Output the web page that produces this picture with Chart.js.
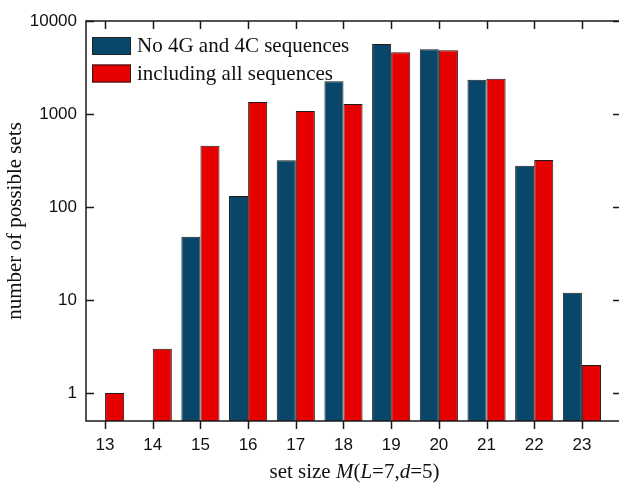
<!DOCTYPE html>
<html>
<head>
<meta charset="utf-8">
<script src="https://cdn.jsdelivr.net/npm/chart.js"></script>
<style>
  html, body { margin: 0; padding: 0; background: #fff; overflow: hidden; }
  #wrap { width: 622px; height: 484px; }
</style>
</head>
<body>
<div id="wrap"><canvas id="myChart"></canvas></div>
<script>
// set sizes M(L=7,d=5)
const setSizes = [13, 14, 15, 16, 17, 18, 19, 20, 21, 22, 23];
// number of possible sets, no 4G and 4C sequences
const noGCSeq = [null, null, 48, 131, 318, 2250, 5660, 4960, 2340, 278, 12];
// number of possible sets, including all sequences
const allSeq = [1, 3, 456, 1345, 1077, 1280, 4600, 4840, 2400, 320, 2];
const yTicks = [1, 10, 100, 1000, 10000];

const serif = "'Liberation Serif', 'Times New Roman', serif";
const sans = "'Liberation Sans', Arial, sans-serif";

// frame, inward/outward ticks, axis titles and the legend box
const decor = {
  id: 'decor',
  afterDraw(chart) {
    const ctx = chart.ctx;
    const { left, right, top, bottom } = chart.chartArea;
    const x = chart.scales.x, y = chart.scales.y;
    ctx.save();
    ctx.strokeStyle = '#1a1a1a';
    ctx.lineWidth = 1.5;
    ctx.strokeRect(left, top, right - left, bottom - top);
    ctx.beginPath();
    setSizes.forEach(v => {
      const px = Math.round(x.getPixelForValue(v)) + 0.5;
      ctx.moveTo(px, bottom); ctx.lineTo(px, bottom + 8);
      ctx.moveTo(px, top); ctx.lineTo(px, top + 8);
    });
    yTicks.forEach(v => {
      const py = Math.round(y.getPixelForValue(v)) + 0.5;
      ctx.moveTo(left, py); ctx.lineTo(left + 8, py);
      ctx.moveTo(right, py); ctx.lineTo(right - 8, py);
    });
    ctx.stroke();

    // x title with italic symbols
    const parts = [['set size ', false], ['M', true], ['(', false], ['L', true], ['=7,', false], ['d', true], ['=5)', false]];
    ctx.fillStyle = '#111';
    ctx.textBaseline = 'alphabetic';
    let w = 0;
    parts.forEach(p => { ctx.font = (p[1] ? 'italic ' : '') + '21px ' + serif; w += ctx.measureText(p[0]).width; });
    let cx = (left + right) / 2 + 1 - w / 2;
    parts.forEach(p => {
      ctx.font = (p[1] ? 'italic ' : '') + '21px ' + serif;
      ctx.fillText(p[0], cx, 478);
      cx += ctx.measureText(p[0]).width;
    });

    // y title
    ctx.save();
    ctx.translate(21, (top + bottom) / 2);
    ctx.rotate(-Math.PI / 2);
    ctx.font = '21px ' + serif;
    ctx.textAlign = 'center';
    ctx.fillText('number of possible sets', 0, 0);
    ctx.restore();

    // legend
    chart.data.datasets.forEach((ds, i) => {
      const by = 37 + i * 27.5;
      ctx.fillStyle = ds.backgroundColor;
      ctx.fillRect(92, by, 39, 18);
      ctx.lineWidth = 1;
      ctx.strokeStyle = '#222';
      ctx.strokeRect(92.5, by + 0.5, 38, 17);
      ctx.fillStyle = '#111';
      ctx.font = '21px ' + serif;
      ctx.textAlign = 'left';
      ctx.fillText(ds.label, 137, by + 15);
    });
    ctx.restore();
  }
};

new Chart(document.getElementById('myChart'), {
  type: 'bar',
  data: {
    datasets: [{
      label: 'No 4G and 4C sequences',
      data: setSizes.map((s, i) => ({ x: s, y: noGCSeq[i] })),
      backgroundColor: '#08466a',
      borderColor: '#1c1c1c',
      borderWidth: 1
    }, {
      label: 'including all sequences',
      data: setSizes.map((s, i) => ({ x: s, y: allSeq[i] })),
      backgroundColor: '#e60000',
      borderColor: '#1c1c1c',
      borderWidth: 1
    }]
  },
  options: {
    responsive: true,
    maintainAspectRatio: false,
    animation: false,
    layout: { padding: { top: 21, right: 1, left: 0, bottom: 0 } },
    categoryPercentage: 0.8,
    barPercentage: 1.0,
    plugins: {
      legend: { display: false },
      tooltip: { enabled: false }
    },
    scales: {
      x: {
        type: 'linear',
        offset: false,
        min: 12.6,
        max: 23.82,
        grid: { display: false, drawTicks: false },
        border: { display: false },
        afterBuildTicks: s => { s.ticks = setSizes.map(v => ({ value: v })); },
        afterFit: s => { s.height = 63; },
        ticks: {
          padding: 14,
          color: '#111',
          font: { family: sans, size: 17 },
          maxRotation: 0,
          callback: v => String(v)
        }
      },
      y: {
        type: 'logarithmic',
        min: 0.5,
        max: 10000,
        grid: { display: false, drawTicks: false },
        border: { display: false },
        afterBuildTicks: s => { s.ticks = yTicks.map(v => ({ value: v })); },
        afterFit: s => { s.width = 86; },
        ticks: {
          padding: 9,
          color: '#111',
          font: { family: sans, size: 17 },
          callback: v => String(v)
        }
      }
    }
  },
  plugins: [decor]
});
</script>
</body>
</html>
